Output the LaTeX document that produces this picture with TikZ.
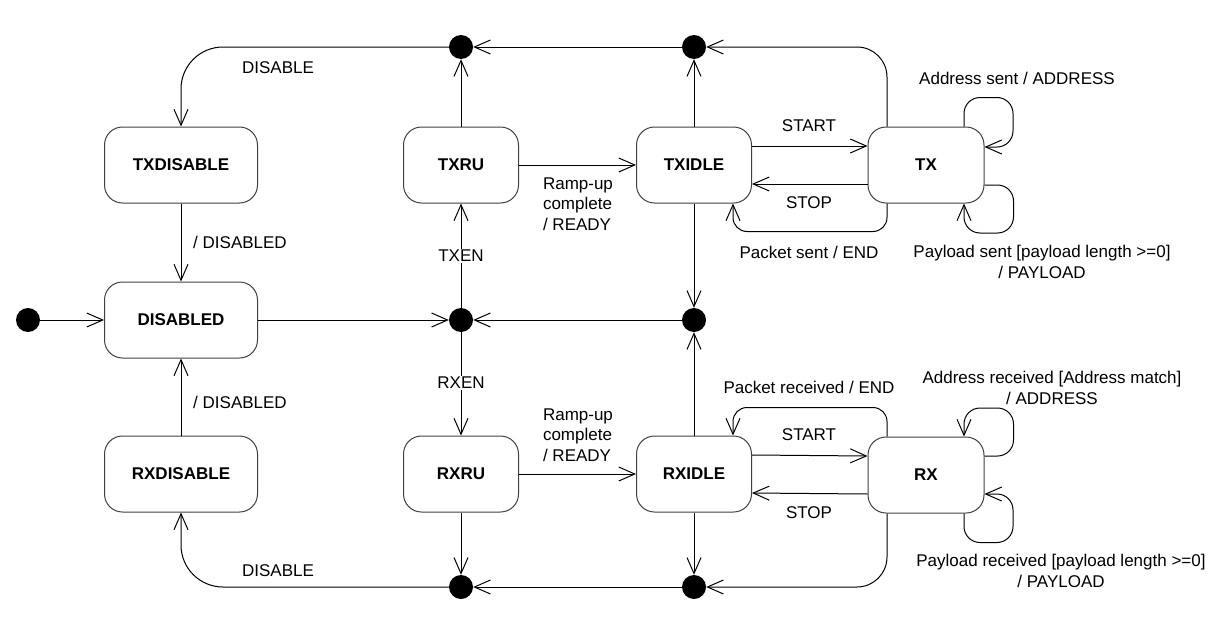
\documentclass[tikz,border=0pt]{standalone}
\usepackage{fontspec}
\setmainfont{Liberation Sans}
\usetikzlibrary{arrows.meta}

\tikzset{state/.style={draw=black!75,line width=1pt,rounded corners=18pt,font=\fontsize{17}{20}\selectfont\bfseries,minimum height=76pt,inner sep=0pt},
small state/.style={state,minimum width=115pt},
wide state/.style={state,minimum width=153pt},
junction/.style={circle,fill=black,minimum size=24pt,inner sep=0pt},
trans label/.style={font=\fontsize{17}{20.5}\selectfont,inner sep=1pt},
edge/.style={->,line width=1pt},
>={Straight Barb[length=16pt,width=14pt]}}

\begin{document}
\begin{tikzpicture}[x=1pt,y=-1pt]
\useasboundingbox (0,0) rectangle (1224,621);

%% Coordinates of the junctions.
\coordinate (c init) at (28,320);
\coordinate (c jtl) at (461,47);
\coordinate (c jtr) at (694,47);
\coordinate (c jml) at (461,320);
\coordinate (c jmr) at (694,320);
\coordinate (c jbl) at (461,587);
\coordinate (c jbr) at (694,587);

%% states
\node [wide state] (txdisable) at (181,165) {TXDISABLE};
\node [wide state] (disabled) at (181,320) {DISABLED};
\node [wide state] (rxdisable) at (181,474) {RXDISABLE};
\node [small state] (txru) at (461,165) {TXRU};
\node [small state] (rxru) at (461,474) {RXRU};
\node [small state] (txidle) at (694,165) {TXIDLE};
\node [small state] (rxidle) at (694,474) {RXIDLE};
\node [small state,minimum width=116pt] (tx) at (926,165) {TX};
\node [small state,minimum width=116pt] (rx) at (926,475) {RX};

%% junctions
\node [junction] (init) at (c init) {};
\node [junction] (jtl) at (c jtl) {};
\node [junction] (jtr) at (c jtr) {};
\node [junction] (jml) at (c jml) {};
\node [junction] (jmr) at (c jmr) {};
\node [junction] (jbl) at (c jbl) {};
\node [junction] (jbr) at (c jbr) {};

%% straight transitions
\draw [edge] (init) -- (disabled);
\draw [edge] (disabled) -- (jml);
\draw [edge] (jmr) -- (jml);
\draw [edge] (txdisable) -- (disabled);
\draw [edge] (rxdisable) -- (disabled);
\draw [edge] (jml) -- (txru);
\draw [edge] (jml) -- (rxru);
\draw [edge] (txru) -- (jtl);
\draw [edge] (jtr) -- (jtl);
\draw [edge] (rxru) -- (jbl);
\draw [edge] (jbr) -- (jbl);
\draw [edge] (txru) -- (txidle);
\draw [edge] (rxru) -- (rxidle);
\draw [edge] (txidle) -- (jtr);
\draw [edge] (txidle) -- (jmr);
\draw [edge] (rxidle) -- (jmr);
\draw [edge] (rxidle) -- (jbr);
\draw [edge] ([yshift=19pt]txidle.east) -- ([yshift=19pt]tx.west);
\draw [edge] ([yshift=-19pt]tx.west) -- ([yshift=-19pt]txidle.east);
\draw [edge] ([yshift=19pt]rxidle.east) -- ([yshift=19pt]rx.west);
\draw [edge] ([yshift=-19pt]rx.west) -- ([yshift=-19pt]rxidle.east);

%% bent transitions
\draw [edge,rounded corners=42pt] (jtl) -| (txdisable);
\draw [edge,rounded corners=42pt] (jbl) -| (rxdisable);
\draw [edge,rounded corners=30pt] ([xshift=-39pt]tx.north) |- (jtr);
\draw [edge,rounded corners=30pt] ([xshift=-39pt]rx.south) |- (jbr);
\draw [edge,rounded corners=14pt] ([xshift=-39pt]tx.south) -- ++(0,28) -| ([xshift=39pt]txidle.south);
\draw [edge,rounded corners=14pt] ([xshift=-39pt]rx.north) -- ++(0,-29) -| ([xshift=39pt]rxidle.north);

%% self loops
\draw [edge,rounded corners=16pt] ([xshift=38pt]tx.north) -- ++(0,-29) -- ++(49,0) |- ([yshift=18pt]tx.east);
\draw [edge,rounded corners=16pt] ([yshift=-20pt]tx.east) -| ++(29,48) -| ([xshift=38pt]tx.south);
\draw [edge,rounded corners=16pt] ([yshift=19pt]rx.east) -| ++(29,-48) -| ([xshift=38pt]rx.north);
\draw [edge,rounded corners=16pt] ([xshift=38pt]rx.south) -- ++(0,29) -- ++(49,0) |- ([yshift=-19pt]rx.east);

%% transition labels
\node [trans label] (l disable t) at (278,68) {DISABLE};
\node [trans label] (l disable b) at (278,571) {DISABLE};
\node [trans label] (l disabled t) at (240,242) {/ DISABLED};
\node [trans label] (l disabled b) at (240,402) {/ DISABLED};
\node [trans label,fill=white] (l txen) at (461,256) {TXEN};
\node [trans label,fill=white] (l rxen) at (461,383) {RXEN};
\node [trans label,align=left] (l ready t) at (578,204) {Ramp-up\\complete\\/ READY};
\node [trans label,align=left] (l ready b) at (578,435) {Ramp-up\\complete\\/ READY};
\node [trans label] (l start t) at (809,126) {START};
\node [trans label] (l stop t) at (809,203) {STOP};
\node [trans label] (l end t) at (809,252) {Packet sent / END};
\node [trans label] (l end b) at (809,387) {Packet received / END};
\node [trans label] (l start b) at (809,435) {START};
\node [trans label] (l stop b) at (809,513) {STOP};
\node [trans label] (l addr t) at (1017,78) {Address sent / ADDRESS};
\node [trans label,align=center] (l pay t) at (1042,262) {Payload sent [payload length >=0]\\/ PAYLOAD};
\node [trans label,align=center] (l addr b) at (1052,388) {Address received [Address match]\\/ ADDRESS};
\node [trans label,align=center] (l pay b) at (1061,571) {Payload received [payload length >=0]\\/ PAYLOAD};

\end{tikzpicture}
\end{document}
